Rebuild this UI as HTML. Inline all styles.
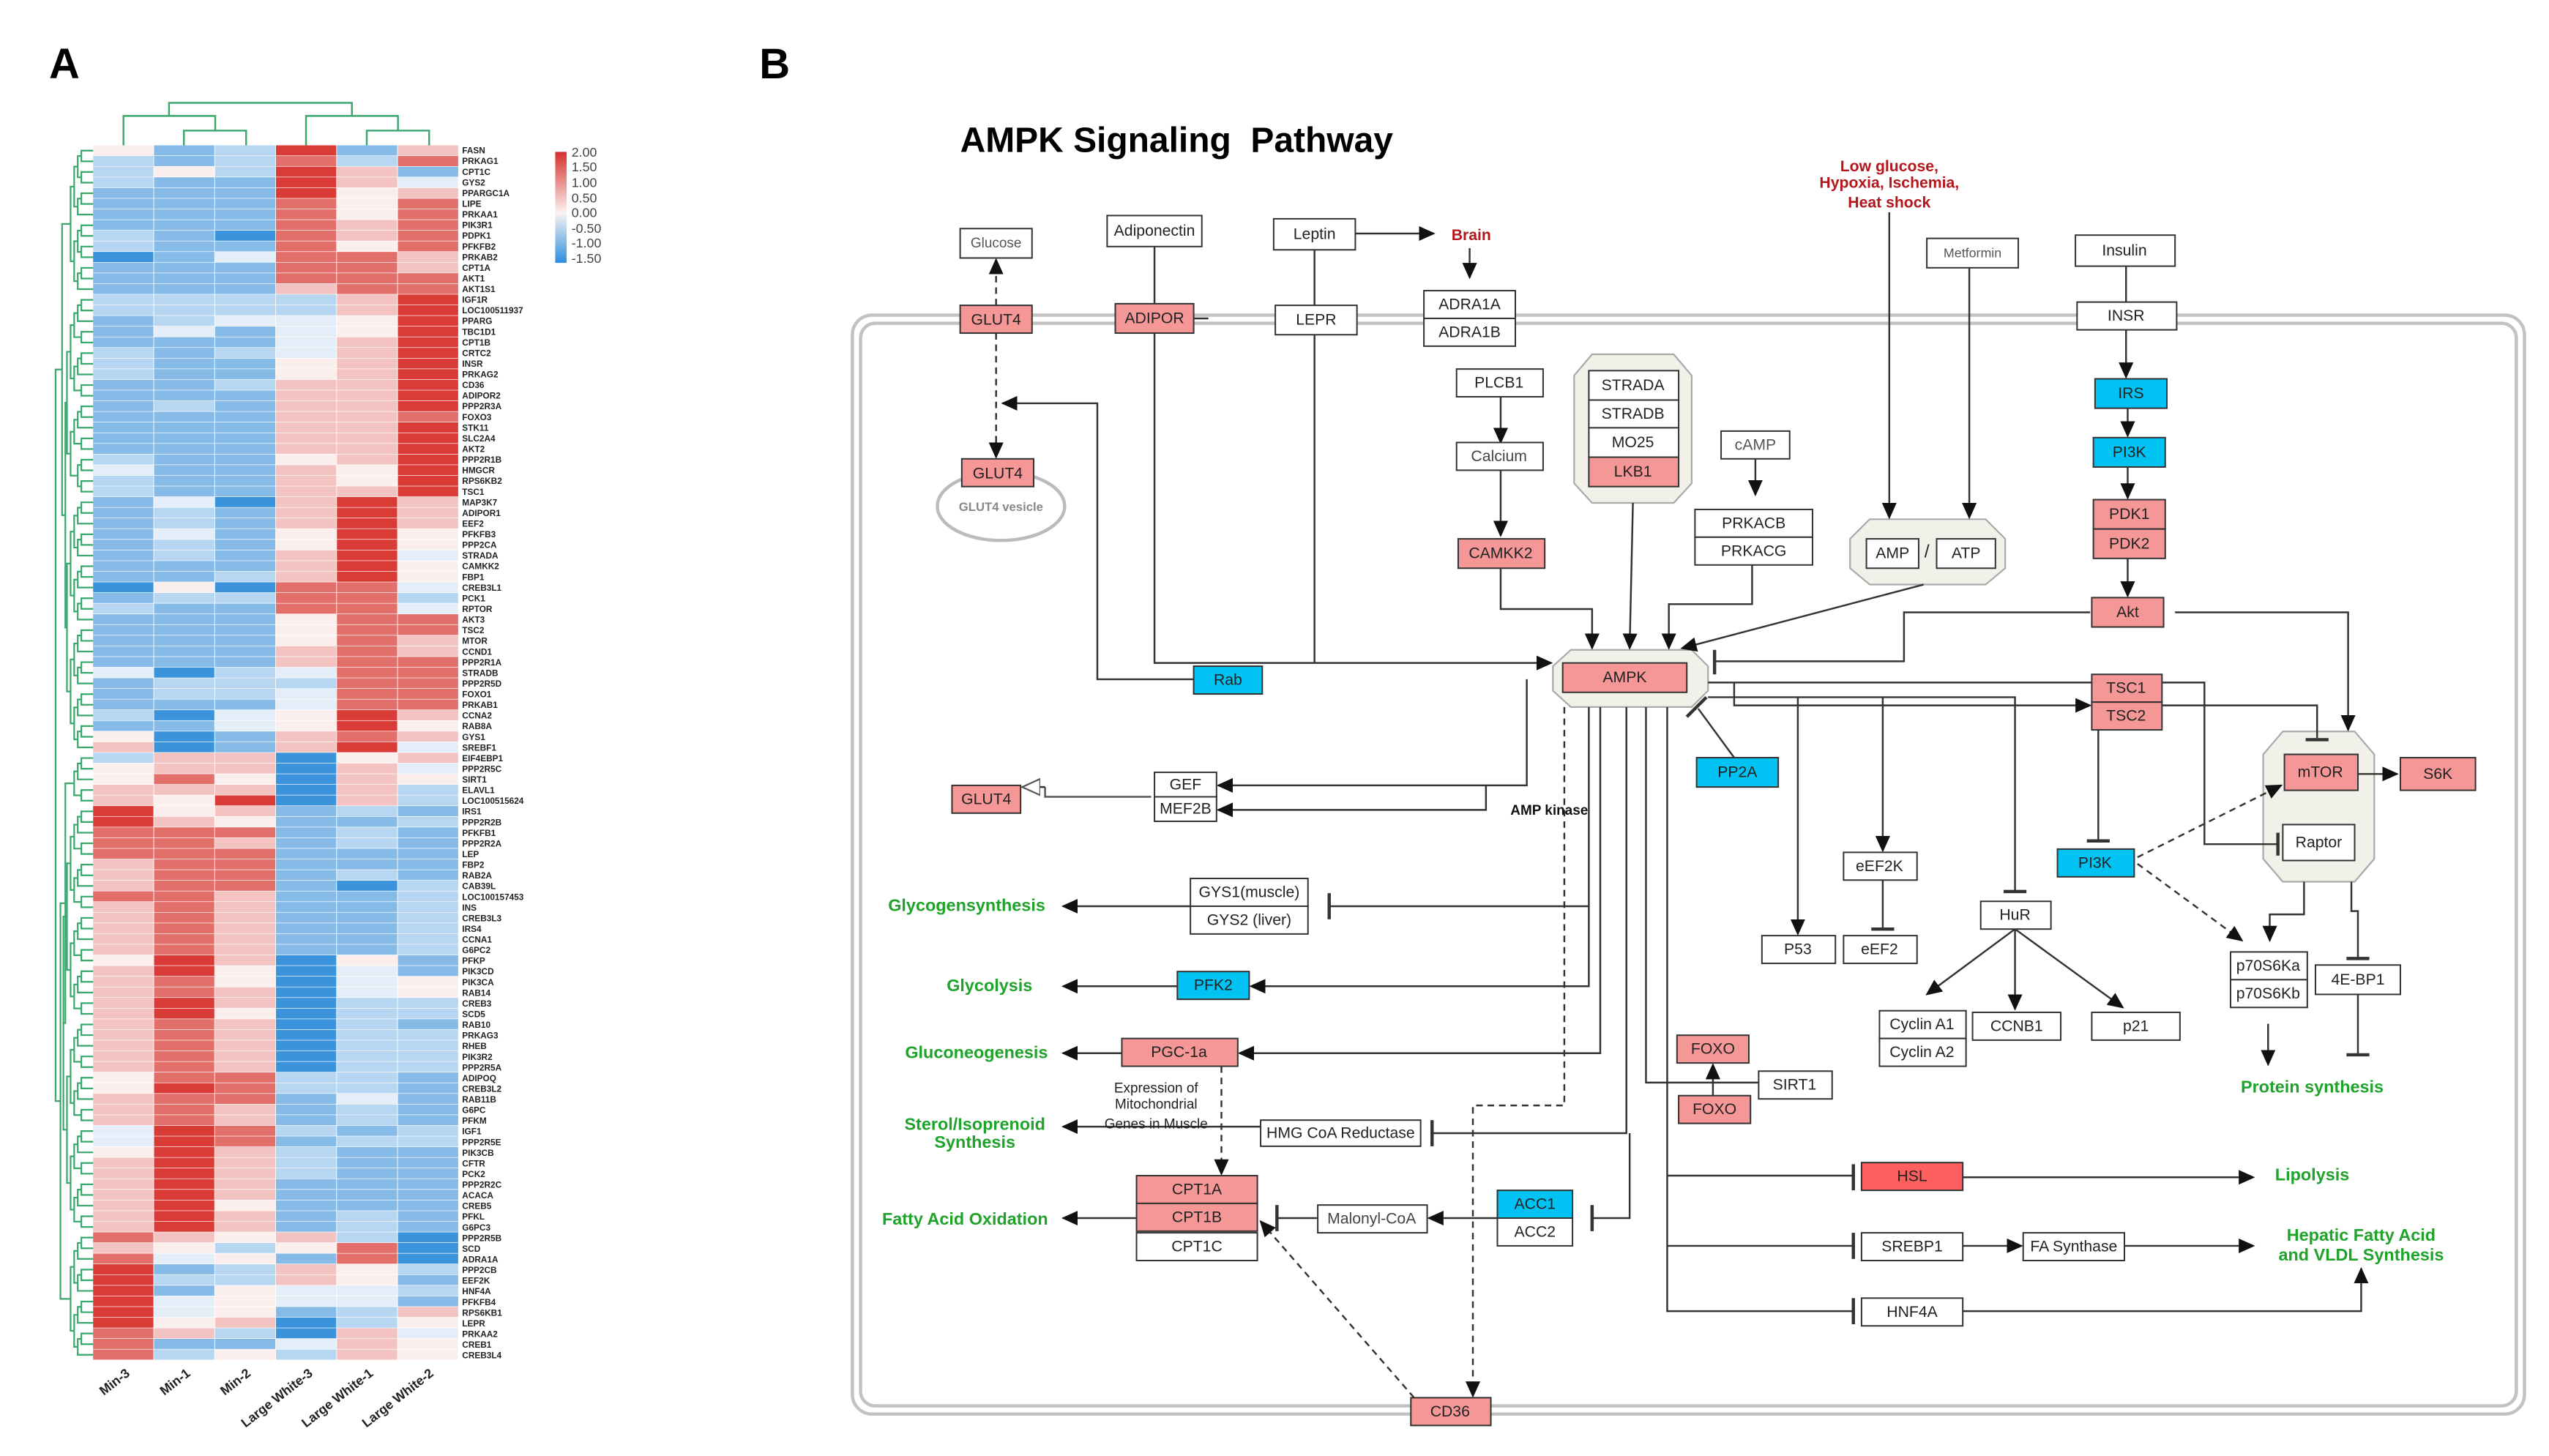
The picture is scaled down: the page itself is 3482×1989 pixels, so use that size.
<!DOCTYPE html>
<html><head><meta charset="utf-8">
<style>
html,body{margin:0;padding:0;background:#fff;}
svg{display:block;}
text{font-family:"Liberation Sans",Arial,sans-serif;}
.b rect{stroke:#333;stroke-width:.9;}
.b text{font-size:9.5px;fill:#222;text-anchor:middle;dominant-baseline:central;}
.w{fill:#fff}.p{fill:#f59697}.c{fill:#00c3f3}.h{fill:#ff5f5f}
.ln{stroke:#333;stroke-width:1.1;fill:none;}
.dl{stroke:#333;stroke-width:1.1;fill:none;stroke-dasharray:4 3;}
.g{fill:#1fa32a;font-weight:bold;font-size:10.5px;}
.red{fill:#b3161b;font-weight:bold;font-size:9.5px;text-anchor:middle;}
.gl text{font-size:5.3px;font-weight:bold;fill:#222;}
</style></head><body>
<svg id="s" width="3482" height="1989" viewBox="0 0 1561 891.7" xmlns="http://www.w3.org/2000/svg">
<defs>
<marker id="a" markerUnits="userSpaceOnUse" markerWidth="10" markerHeight="10" refX="9" refY="5" orient="auto"><path d="M0,0.5 L10,5 L0,9.5z" fill="#111"/></marker>
<marker id="o" markerUnits="userSpaceOnUse" markerWidth="12" markerHeight="12" refX="11" refY="6" orient="auto"><path d="M0,1 L11,6 L0,11z" fill="#fff" stroke="#555"/></marker>
<linearGradient id="lg" x1="0" y1="0" x2="0" y2="1"><stop offset="0" stop-color="#d7302c"/><stop offset=".55" stop-color="#fbf3f2"/><stop offset="1" stop-color="#2b8ee0"/></linearGradient>
</defs>
<rect width="1561" height="892" fill="#fff"/>
<text x="30" y="48" font-size="26" font-weight="bold">A</text>
<text x="465" y="48" font-size="26" font-weight="bold">B</text>

<g id="hm"></g>
<g id="dg" stroke="#3aa76d" stroke-width="1" fill="none"></g>
<g stroke="#3aa76d" stroke-width="1.1" fill="none">
<path d="M103.5,71 V63 H215.5 V71"/>
<path d="M75.6,89 V71 H131.8 V80"/>
<path d="M112.6,89 V80 H150.7 V89"/>
<path d="M187.4,89 V71 H243.7 V80"/>
<path d="M224.6,89 V80 H262.8 V89"/>
</g>
<g class="gl"><text x="283" y="94"><tspan x="283" dy="0">FASN</tspan><tspan x="283" dy="6.53">PRKAG1</tspan><tspan x="283" dy="6.53">CPT1C</tspan><tspan x="283" dy="6.53">GYS2</tspan><tspan x="283" dy="6.53">PPARGC1A</tspan><tspan x="283" dy="6.53">LIPE</tspan><tspan x="283" dy="6.53">PRKAA1</tspan><tspan x="283" dy="6.53">PIK3R1</tspan><tspan x="283" dy="6.53">PDPK1</tspan><tspan x="283" dy="6.53">PFKFB2</tspan><tspan x="283" dy="6.53">PRKAB2</tspan><tspan x="283" dy="6.53">CPT1A</tspan><tspan x="283" dy="6.53">AKT1</tspan><tspan x="283" dy="6.53">AKT1S1</tspan><tspan x="283" dy="6.53">IGF1R</tspan><tspan x="283" dy="6.53">LOC100511937</tspan><tspan x="283" dy="6.53">PPARG</tspan><tspan x="283" dy="6.53">TBC1D1</tspan><tspan x="283" dy="6.53">CPT1B</tspan><tspan x="283" dy="6.53">CRTC2</tspan><tspan x="283" dy="6.53">INSR</tspan><tspan x="283" dy="6.53">PRKAG2</tspan><tspan x="283" dy="6.53">CD36</tspan><tspan x="283" dy="6.53">ADIPOR2</tspan><tspan x="283" dy="6.53">PPP2R3A</tspan><tspan x="283" dy="6.53">FOXO3</tspan><tspan x="283" dy="6.53">STK11</tspan><tspan x="283" dy="6.53">SLC2A4</tspan><tspan x="283" dy="6.53">AKT2</tspan><tspan x="283" dy="6.53">PPP2R1B</tspan><tspan x="283" dy="6.53">HMGCR</tspan><tspan x="283" dy="6.53">RPS6KB2</tspan><tspan x="283" dy="6.53">TSC1</tspan><tspan x="283" dy="6.53">MAP3K7</tspan><tspan x="283" dy="6.53">ADIPOR1</tspan><tspan x="283" dy="6.53">EEF2</tspan><tspan x="283" dy="6.53">PFKFB3</tspan><tspan x="283" dy="6.53">PPP2CA</tspan><tspan x="283" dy="6.53">STRADA</tspan><tspan x="283" dy="6.53">CAMKK2</tspan><tspan x="283" dy="6.53">FBP1</tspan><tspan x="283" dy="6.53">CREB3L1</tspan><tspan x="283" dy="6.53">PCK1</tspan><tspan x="283" dy="6.53">RPTOR</tspan><tspan x="283" dy="6.53">AKT3</tspan><tspan x="283" dy="6.53">TSC2</tspan><tspan x="283" dy="6.53">MTOR</tspan><tspan x="283" dy="6.53">CCND1</tspan><tspan x="283" dy="6.53">PPP2R1A</tspan><tspan x="283" dy="6.53">STRADB</tspan><tspan x="283" dy="6.53">PPP2R5D</tspan><tspan x="283" dy="6.53">FOXO1</tspan><tspan x="283" dy="6.53">PRKAB1</tspan><tspan x="283" dy="6.53">CCNA2</tspan><tspan x="283" dy="6.53">RAB8A</tspan><tspan x="283" dy="6.53">GYS1</tspan><tspan x="283" dy="6.53">SREBF1</tspan><tspan x="283" dy="6.53">EIF4EBP1</tspan><tspan x="283" dy="6.53">PPP2R5C</tspan><tspan x="283" dy="6.53">SIRT1</tspan><tspan x="283" dy="6.53">ELAVL1</tspan><tspan x="283" dy="6.53">LOC100515624</tspan><tspan x="283" dy="6.53">IRS1</tspan><tspan x="283" dy="6.53">PPP2R2B</tspan><tspan x="283" dy="6.53">PFKFB1</tspan><tspan x="283" dy="6.53">PPP2R2A</tspan><tspan x="283" dy="6.53">LEP</tspan><tspan x="283" dy="6.53">FBP2</tspan><tspan x="283" dy="6.53">RAB2A</tspan><tspan x="283" dy="6.53">CAB39L</tspan><tspan x="283" dy="6.53">LOC100157453</tspan><tspan x="283" dy="6.53">INS</tspan><tspan x="283" dy="6.53">CREB3L3</tspan><tspan x="283" dy="6.53">IRS4</tspan><tspan x="283" dy="6.53">CCNA1</tspan><tspan x="283" dy="6.53">G6PC2</tspan><tspan x="283" dy="6.53">PFKP</tspan><tspan x="283" dy="6.53">PIK3CD</tspan><tspan x="283" dy="6.53">PIK3CA</tspan><tspan x="283" dy="6.53">RAB14</tspan><tspan x="283" dy="6.53">CREB3</tspan><tspan x="283" dy="6.53">SCD5</tspan><tspan x="283" dy="6.53">RAB10</tspan><tspan x="283" dy="6.53">PRKAG3</tspan><tspan x="283" dy="6.53">RHEB</tspan><tspan x="283" dy="6.53">PIK3R2</tspan><tspan x="283" dy="6.53">PPP2R5A</tspan><tspan x="283" dy="6.53">ADIPOQ</tspan><tspan x="283" dy="6.53">CREB3L2</tspan><tspan x="283" dy="6.53">RAB11B</tspan><tspan x="283" dy="6.53">G6PC</tspan><tspan x="283" dy="6.53">PFKM</tspan><tspan x="283" dy="6.53">IGF1</tspan><tspan x="283" dy="6.53">PPP2R5E</tspan><tspan x="283" dy="6.53">PIK3CB</tspan><tspan x="283" dy="6.53">CFTR</tspan><tspan x="283" dy="6.53">PCK2</tspan><tspan x="283" dy="6.53">PPP2R2C</tspan><tspan x="283" dy="6.53">ACACA</tspan><tspan x="283" dy="6.53">CREB5</tspan><tspan x="283" dy="6.53">PFKL</tspan><tspan x="283" dy="6.53">G6PC3</tspan><tspan x="283" dy="6.53">PPP2R5B</tspan><tspan x="283" dy="6.53">SCD</tspan><tspan x="283" dy="6.53">ADRA1A</tspan><tspan x="283" dy="6.53">PPP2CB</tspan><tspan x="283" dy="6.53">EEF2K</tspan><tspan x="283" dy="6.53">HNF4A</tspan><tspan x="283" dy="6.53">PFKFB4</tspan><tspan x="283" dy="6.53">RPS6KB1</tspan><tspan x="283" dy="6.53">LEPR</tspan><tspan x="283" dy="6.53">PRKAA2</tspan><tspan x="283" dy="6.53">CREB1</tspan><tspan x="283" dy="6.53">CREB3L4</tspan></text></g>
<rect x="340" y="93" width="7" height="68" fill="url(#lg)"/>
<g font-size="8" fill="#444"><text x="350" y="96">2.00</text><text x="350" y="105">1.50</text><text x="350" y="114.5">1.00</text><text x="350" y="124">0.50</text><text x="350" y="133">0.00</text><text x="350" y="142.5">-0.50</text><text x="350" y="151.5">-1.00</text><text x="350" y="161">-1.50</text></g>
<g font-size="8" font-weight="bold" fill="#222" text-anchor="end">
<text transform="translate(80,842) rotate(-38)">Min-3</text>
<text transform="translate(117,842) rotate(-38)">Min-1</text>
<text transform="translate(154,842) rotate(-38)">Min-2</text>
<text transform="translate(192,842) rotate(-38)">Large White-3</text>
<text transform="translate(229,842) rotate(-38)">Large White-1</text>
<text transform="translate(266,842) rotate(-38)">Large White-2</text>
</g>

<text x="588" y="93" font-size="21.5" font-weight="bold">AMPK Signaling&#160; Pathway</text>
<rect x="522" y="193" width="1024" height="673" rx="12" fill="none" stroke="#c2c2c2" stroke-width="2"/>
<rect x="527" y="198" width="1014" height="663" rx="9" fill="none" stroke="#c2c2c2" stroke-width="2"/>

<path d="M975,217 H1025 L1036,230 V296 L1025,308 H975 L964,296 V230z" fill="#f1f0e9" stroke="#aaa"/>
<path d="M1145,318 H1216 L1228,330 V348 L1216,358 H1145 L1133,348 V330z" fill="#f1f0e9" stroke="#aaa"/>
<path d="M962,398 H1036 L1046,408 V423 L1036,433 H962 L951,423 V408z" fill="#f1f0e9" stroke="#aaa"/>
<path d="M1398,448 H1442 L1454,462 V526 L1442,540 H1398 L1386,526 V462z" fill="#f1f0e9" stroke="#aaa"/>
<ellipse cx="613" cy="310" rx="39" ry="21" fill="none" stroke="#bbb" stroke-width="2"/>
<text x="613" y="313" font-size="7.5" font-weight="bold" fill="#888" text-anchor="middle">GLUT4 vesicle</text>

<g class="ln" marker-end="url(#a)">
<path d="M830,143 H878"/><path d="M900,152 V170"/>
<path d="M919,243 V271"/><path d="M919,288 V328"/>
<path d="M919,348 V373 H975 V397"/>
<path d="M1000,308 L998,397"/>
<path d="M1075,281 V303"/>
<path d="M1073,346 V370 H1022 V397"/>
<path d="M1178,358 L1030,397"/>
<path d="M1157,130 V317"/><path d="M1206,164 V317"/>
<path d="M1302,202 V231"/><path d="M1303,250 V267"/><path d="M1303,286 V305"/><path d="M1303,342 V365"/>
<path d="M707,204 V406 H950"/>
<path d="M773,416 H672 V247 H614"/>
<path d="M1332,375 H1438 V447"/>
<path d="M1062,418 V432 H1280"/>
<path d="M1101,427 V572"/><path d="M1153,427 V521"/>
<path d="M1234,569 L1180,609"/><path d="M1234,569 V618"/><path d="M1234,569 L1300,617"/>
<path d="M1411,540 V560 H1390 V576"/>
<path d="M1389,627 V652"/>
<path d="M1444,474 H1468"/>
<path d="M935,416 V481 H746"/><path d="M910,481 V496 H746"/>
<path d="M729,555 H651"/>
<path d="M973,433 V604 H766"/><path d="M721,604 H651"/>
<path d="M980,433 V645 H759"/><path d="M687,645 H651"/>
<path d="M772,690 H651"/><path d="M696,746 H651"/>
<path d="M917,746 H875"/>
<path d="M1049,671 V652"/>
<path d="M1202,721 H1380"/><path d="M1202,763 H1238"/><path d="M1301,763 H1380"/>
<path d="M1202,803 H1446 V777"/>
</g>
<g class="ln">
<path d="M707,151 V186"/><path d="M805,153 V406"/><path d="M731,195 H740"/>
<path d="M1302,163 V185"/>
<path d="M1280,375 H1166 V405 H1050"/><path d="M1050,398 V413" stroke-width="2"/>
<path d="M1046,418 H1350 V517 H1395"/><path d="M1395,510 V524" stroke-width="2"/>
<path d="M1324,432 H1419 V452"/><path d="M1412,453 H1426" stroke-width="2"/>
<path d="M1285,447 V515"/><path d="M1278,515 H1292" stroke-width="2"/>
<path d="M1046,427 H1234 V546"/><path d="M1227,546 H1241" stroke-width="2"/>
<path d="M1153,539 V568"/><path d="M1146,569 H1160" stroke-width="2"/>
<path d="M1440,540 V558 H1444 V587"/><path d="M1437,587 H1451" stroke-width="2"/>
<path d="M1444,609 V646"/><path d="M1437,646 H1451" stroke-width="2"/>
<path d="M1062,464 L1040,434"/><path d="M1033,439 L1045,427" stroke-width="2"/>
<path d="M973,555 H814"/><path d="M814,547 V563" stroke-width="2"/>
<path d="M996,433 V694 H877"/><path d="M877,686 V702" stroke-width="2"/>
<path d="M998,694 V746 H975"/><path d="M975,738 V754" stroke-width="2"/>
<path d="M807,746 H782"/><path d="M782,738 V754" stroke-width="2"/>
<path d="M1008,433 V663 H1077"/>
<path d="M1021,433 V803 H1135"/><path d="M1021,720 H1135"/><path d="M1021,763 H1135"/>
<path d="M1135,713 V729" stroke-width="2"/><path d="M1135,755 V771" stroke-width="2"/><path d="M1135,795 V811" stroke-width="2"/>
<path d="M705,488 H640 V482" stroke="#555"/>
</g>
<path d="M640,482 H626" class="ln" marker-end="url(#o)"/>
<g class="dl" marker-end="url(#a)">
<path d="M610,187 V159"/><path d="M610,204 V280"/>
<path d="M958,433 V677 H902 V855"/>
<path d="M748,653 V719"/>
<path d="M866,856 L772,748"/>
<path d="M1309,525 L1397,481"/><path d="M1309,529 L1373,576"/>
</g>

<g class="b">
<rect class="w" x="588" y="140" width="44" height="18"/><text x="610" y="149" style="font-size:8.5px;fill:#555">Glucose</text>
<rect class="p" x="588" y="187" width="44" height="17"/><text x="610" y="196">GLUT4</text>
<rect class="p" x="589" y="281" width="44" height="17"/><text x="611" y="290">GLUT4</text>
<rect class="w" x="678" y="132" width="58" height="19"/><text x="707" y="141.5">Adiponectin</text>
<rect class="p" x="683" y="186" width="48" height="18"/><text x="707" y="195">ADIPOR</text>
<rect class="w" x="780" y="134" width="50" height="19"/><text x="805" y="143.5">Leptin</text>
<rect class="w" x="781" y="187" width="50" height="18"/><text x="806" y="196">LEPR</text>
<rect class="w" x="872" y="178" width="56" height="17"/><text x="900" y="186.5">ADRA1A</text>
<rect class="w" x="872" y="195" width="56" height="17"/><text x="900" y="203.5">ADRA1B</text>
<rect class="w" x="892" y="226" width="53" height="17"/><text x="918" y="234.5">PLCB1</text>
<rect class="w" x="892" y="271" width="53" height="17"/><text x="918" y="279.5" style="fill:#444">Calcium</text>
<rect class="p" x="893" y="330" width="53" height="18"/><text x="919" y="339">CAMKK2</text>
<rect class="w" x="973" y="227" width="55" height="18"/><text x="1000" y="236">STRADA</text>
<rect class="w" x="973" y="245" width="55" height="17"/><text x="1000" y="253.5">STRADB</text>
<rect class="w" x="973" y="262" width="55" height="18"/><text x="1000" y="271">MO25</text>
<rect class="p" x="973" y="280" width="55" height="18"/><text x="1000" y="289">LKB1</text>
<rect class="w" x="1054" y="264" width="42" height="17"/><text x="1075" y="272.5" style="fill:#555">cAMP</text>
<rect class="w" x="1038" y="312" width="72" height="17"/><text x="1074" y="320.5">PRKACB</text>
<rect class="w" x="1038" y="329" width="72" height="17"/><text x="1074" y="337.5">PRKACG</text>
<rect class="w" x="1180" y="146" width="56" height="18"/><text x="1208" y="155" style="font-size:8px;fill:#555">Metformin</text>
<rect class="w" x="1143" y="330" width="32" height="18"/><text x="1159" y="339">AMP</text>
<rect class="w" x="1186" y="330" width="36" height="18"/><text x="1204" y="339">ATP</text>
<text x="1180" y="338" style="font-size:11px">/</text>
<rect class="w" x="1271" y="144" width="61" height="19"/><text x="1301" y="153.5">Insulin</text>
<rect class="w" x="1272" y="185" width="61" height="17"/><text x="1302" y="193.5">INSR</text>
<rect class="c" x="1283" y="232" width="44" height="18"/><text x="1305" y="241">IRS</text>
<rect class="c" x="1282" y="268" width="44" height="18"/><text x="1304" y="277">PI3K</text>
<rect class="p" x="1282" y="306" width="44" height="18"/><text x="1304" y="315">PDK1</text>
<rect class="p" x="1282" y="324" width="44" height="18"/><text x="1304" y="333">PDK2</text>
<rect class="p" x="1281" y="366" width="44" height="18"/><text x="1303" y="375">Akt</text>
<rect class="p" x="957" y="406" width="76" height="18"/><text x="995" y="415">AMPK</text>
<rect class="c" x="731" y="408" width="42" height="17"/><text x="752" y="416.5">Rab</text>
<rect class="p" x="1281" y="413" width="43" height="17"/><text x="1302" y="421.5">TSC1</text>
<rect class="p" x="1281" y="430" width="43" height="17"/><text x="1302" y="438.5">TSC2</text>
<rect class="p" x="1399" y="462" width="45" height="22"/><text x="1421" y="473">mTOR</text>
<rect class="w" x="1398" y="505" width="44" height="22"/><text x="1420" y="516">Raptor</text>
<rect class="p" x="1470" y="464" width="46" height="20"/><text x="1493" y="474">S6K</text>
<rect class="c" x="1039" y="464" width="50" height="18"/><text x="1064" y="473">PP2A</text>
<rect class="p" x="583" y="481" width="42" height="17"/><text x="604" y="489.5">GLUT4</text>
<rect class="w" x="707" y="473" width="38" height="15"/><text x="726" y="480.5">GEF</text>
<rect class="w" x="707" y="488" width="38" height="15"/><text x="726" y="495.5">MEF2B</text>
<rect class="c" x="1260" y="520" width="47" height="17"/><text x="1283" y="528.5">PI3K</text>
<rect class="w" x="1129" y="522" width="45" height="17"/><text x="1151" y="530.5">eEF2K</text>
<rect class="w" x="1129" y="573" width="45" height="17"/><text x="1151" y="581.5">eEF2</text>
<rect class="w" x="1079" y="573" width="45" height="17"/><text x="1101" y="581.5">P53</text>
<rect class="w" x="1213" y="552" width="43" height="17"/><text x="1234" y="560.5">HuR</text>
<rect class="w" x="1151" y="619" width="53" height="17"/><text x="1177" y="627.5">Cyclin A1</text>
<rect class="w" x="1151" y="636" width="53" height="17"/><text x="1177" y="644.5">Cyclin A2</text>
<rect class="w" x="1208" y="620" width="54" height="17"/><text x="1235" y="628.5">CCNB1</text>
<rect class="w" x="1281" y="620" width="54" height="17"/><text x="1308" y="628.5">p21</text>
<rect class="w" x="1366" y="583" width="47" height="17"/><text x="1389" y="591.5">p70S6Ka</text>
<rect class="w" x="1366" y="600" width="47" height="17"/><text x="1389" y="608.5">p70S6Kb</text>
<rect class="w" x="1418" y="591" width="52" height="18"/><text x="1444" y="600">4E-BP1</text>
<rect class="w" x="729" y="538" width="72" height="17"/><text x="765" y="546.5">GYS1(muscle)</text>
<rect class="w" x="729" y="555" width="72" height="17"/><text x="765" y="563.5">GYS2 (liver)</text>
<rect class="c" x="721" y="595" width="44" height="17"/><text x="743" y="603.5">PFK2</text>
<rect class="p" x="687" y="636" width="71" height="17"/><text x="722" y="644.5">PGC-1a</text>
<rect class="w" x="772" y="686" width="98" height="16"/><text x="821" y="694">HMG CoA Reductase</text>
<rect class="p" x="696" y="720" width="74" height="17"/><text x="733" y="728.5">CPT1A</text>
<rect class="p" x="696" y="737" width="74" height="17"/><text x="733" y="745.5">CPT1B</text>
<rect class="w" x="696" y="755" width="74" height="17"/><text x="733" y="763.5">CPT1C</text>
<rect class="w" x="807" y="738" width="67" height="17"/><text x="840" y="746.5" style="fill:#444">Malonyl-CoA</text>
<rect class="c" x="917" y="729" width="46" height="17"/><text x="940" y="737.5">ACC1</text>
<rect class="w" x="917" y="746" width="46" height="17"/><text x="940" y="754.5">ACC2</text>
<rect class="p" x="864" y="856" width="49" height="17"/><text x="888" y="864.5">CD36</text>
<rect class="p" x="1027" y="634" width="44" height="17"/><text x="1049" y="642.5">FOXO</text>
<rect class="p" x="1028" y="671" width="44" height="17"/><text x="1050" y="679.5">FOXO</text>
<rect class="w" x="1077" y="656" width="45" height="17"/><text x="1099" y="664.5">SIRT1</text>
<rect class="h" x="1140" y="712" width="62" height="17"/><text x="1171" y="720.5">HSL</text>
<rect class="w" x="1140" y="755" width="62" height="17"/><text x="1171" y="763.5">SREBP1</text>
<rect class="w" x="1239" y="755" width="62" height="17"/><text x="1270" y="763.5">FA Synthase</text>
<rect class="w" x="1140" y="795" width="62" height="17"/><text x="1171" y="803.5">HNF4A</text>
</g>
<text x="901" y="147" class="red">Brain</text>
<text class="red" font-size="9"><tspan x="1157" y="105">Low glucose,</tspan><tspan x="1157" y="115">Hypoxia, Ischemia,</tspan><tspan x="1157" y="127">Heat shock</tspan></text>
<text x="925" y="499" font-size="8.5" font-weight="bold" fill="#111">AMP kinase</text>
<text x="708" y="669" font-size="8.5" fill="#222" text-anchor="middle"><tspan x="708" y="669">Expression of</tspan><tspan x="708" y="679">Mitochondrial</tspan><tspan x="708" y="691">Genes in Muscle</tspan></text>
<g class="g" text-anchor="middle">
<text x="592" y="558">Glycogensynthesis</text>
<text x="606" y="607">Glycolysis</text>
<text x="598" y="648">Gluconeogenesis</text>
<text x="597" y="692">Sterol/Isoprenoid</text><text x="597" y="703">Synthesis</text>
<text x="591" y="750">Fatty Acid Oxidation</text>
<text x="1416" y="669">Protein synthesis</text>
<text x="1416" y="723">Lipolysis</text>
<text x="1446" y="760">Hepatic Fatty Acid</text><text x="1446" y="772">and VLDL Synthesis</text>
</g>
</svg>
<script>
(function(){
var d="wblRbp lblrlr lwlRpb lbbRpv bbbRwp bbbrwr bbbrwr bbbrpr lbBrpr lbbrwr Bbvrrp bbbrrp bbbrrr bbbprr llllpR llllpR blvvwR bvbvwR bbbvpR lblvpR lbbwpR lbbwpR bblppR bbbppR blbppR bbbppr bbbppR bbbppR bbbppR lbbwpR vbbpwR lbbpwR lbbppR bvBpRp blbpRp blbpRp bvbwRw blbwRw blbpRv bbbpRw bblpRw BwBrrv bllrrl lbbrrv bbbwrr bbbwrr bbbwrp bbbprp bbbprr vBlvrr blllrr bllvrr bbbvrr lBvwRp bbvwRw wBbprp pBbpRv lppBwp wppBpv wrwBpw pppBpl pwRBpl Rwpblb Rpwbbl rrrblb rrpblb rrrbbb prrbbb prrblb prrbBl rrpbbl prpbbl prpbbl prpbbl prpbbl prpbbl wRpBwb pRwBvb prwBvw prpBvw pRpBll pRwBll prpBlb prpBll prpBll prpBll prpBll wrrllb wRrllb prrbvb prpblb prpblb vRrlbl vRrbll wRplbb pRplbb pRplbb pRpbbb pRpbbb pRwbbb pRpblb pRpblb rpwplB pwlwrB rvwbrB Rblpwl Rllpwb Rbwvvl Rvwvvb Rvwblp RwpBlw rplBpv rbbvpw rlwlpw".split(" ");
var col={R:"#d93b37",r:"#e36f6b",p:"#f3c3c2",w:"#fbefee",v:"#e3eef9",l:"#b7d6f1",b:"#86bbe8",B:"#3b93dc"};
var ns="http://www.w3.org/2000/svg",g=document.getElementById("hm");
var top=89,bot=833,h=(bot-top)/d.length,x0=57,cw=37.33;
for(var i=0;i<d.length;i++)for(var j=0;j<6;j++){var r=document.createElementNS(ns,"rect");
r.setAttribute("x",x0+j*cw);r.setAttribute("y",top+i*h);r.setAttribute("width",cw-0.4);r.setAttribute("height",h-0.3);
r.setAttribute("fill",col[d[i][j]]);g.appendChild(r);}
var dg=document.getElementById("dg");
function line(p,o){var e=document.createElementNS(ns,"path");e.setAttribute("d",p);if(o)e.setAttribute("stroke-opacity",o);dg.appendChild(e);}
function tree(a,b){ if(a==b)return {y:top+(a+.5)*h,x:x0,lv:0};
 var m=Math.floor((a+b)/2),L=tree(a,m),R=tree(m+1,b),lv=Math.max(L.lv,R.lv)+1,x=x0-5-lv*2.2;
 line("M"+L.x+","+L.y+" H"+x+" V"+R.y+" H"+R.x);return {y:(L.y+R.y)/2,x:x,lv:lv};}
function join(A,B,x){line("M"+A.x+","+A.y+" H"+x+" V"+B.y+" H"+B.x);return {x:x,y:(A.y+B.y)/2};}
var c1=tree(0,13),c2=tree(14,32),c3=tree(33,56),c4=tree(57,61),c5=tree(62,101),c6=tree(102,113);
var u=join(c2,c3,40);u=join(c1,u,38);var v=join(c4,c5,40);v=join(v,c6,37);join(u,v,34);
})();
</script>
</body></html>
